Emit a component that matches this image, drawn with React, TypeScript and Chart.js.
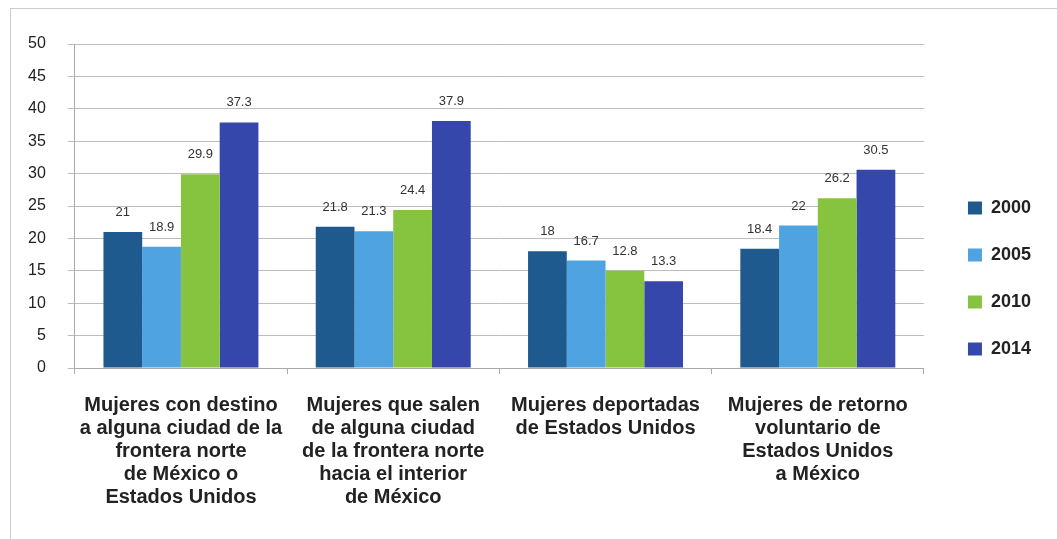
import React, { useEffect, useRef } from "react";
import { Chart, registerables } from "chart.js";

Chart.register(...registerables);

const categories: string[][] = [
  ["Mujeres con destino", "a alguna ciudad de la", "frontera norte", "de México o", "Estados Unidos"],
  ["Mujeres que salen", "de alguna ciudad", "de la frontera norte", "hacia el interior", "de México"],
  ["Mujeres deportadas", "de Estados Unidos"],
  ["Mujeres de retorno", "voluntario de", "Estados Unidos", "a México"],
];

const seriesNames = ["2000", "2005", "2010", "2014"];

const values2000 = [21, 21.8, 18, 18.4];
const values2005 = [18.7, 21.1, 16.6, 22];
const values2010 = [29.9, 24.4, 15, 26.2];
const values2014 = [37.9, 38.1, 13.4, 30.6];

const labels2000 = ["21", "21.8", "18", "18.4"];
const labels2005 = ["18.9", "21.3", "16.7", "22"];
const labels2010 = ["29.9", "24.4", "12.8", "26.2"];
const labels2014 = ["37.3", "37.9", "13.3", "30.5"];

const yTicks = [0, 5, 10, 15, 20, 25, 30, 35, 40, 45, 50];

const colors = ["#1f5a8e", "#4ea3e0", "#86c440", "#3547aa"];

const allValues = [values2000, values2005, values2010, values2014];
const allLabels = [labels2000, labels2005, labels2010, labels2014];

const FONT = "Arial, 'Liberation Sans', sans-serif";

const labelPlugin = {
  id: "barLabels",
  beforeDraw(chart: any) {
    const lg = chart.legend;
    if (lg && !lg._shifted) {
      lg.top -= 8;
      lg.bottom -= 8;
      lg._shifted = true;
    }
  },
  afterLayout(chart: any) {
    if (chart.legend) chart.legend._shifted = false;
  },
  afterDatasetsDraw(chart: any) {
    const ctx = chart.ctx;
    ctx.save();
    ctx.font = "13px " + FONT;
    ctx.fillStyle = "#333";
    ctx.textAlign = "center";
    ctx.textBaseline = "bottom";
    chart.data.datasets.forEach((ds: any, i: number) => {
      const meta = chart.getDatasetMeta(i);
      meta.data.forEach((bar: any, j: number) => {
        ctx.fillText(allLabels[i][j], bar.x, bar.y - 13);
      });
    });
    ctx.restore();
  },
};

export default function App() {
  const ref = useRef<HTMLCanvasElement | null>(null);
  useEffect(() => {
    if (!ref.current) return;
    const chart = new Chart(ref.current, {
      type: "bar",
      data: {
        labels: categories,
        datasets: seriesNames.map((n, i) => ({
          label: n,
          data: allValues[i],
          backgroundColor: colors[i],
          borderWidth: 0,
          barPercentage: 1,
          categoryPercentage: 0.73,
        })),
      },
      options: {
        animation: false,
        responsive: true,
        maintainAspectRatio: false,
        layout: { padding: { left: -5, right: 16, top: 35, bottom: 10 } },
        plugins: {
          legend: {
            position: "right",
            labels: {
              boxWidth: 14,
              boxHeight: 13,
              padding: 29,
              color: "#222",
              font: { size: 18, weight: "bold", family: FONT },
            },
          },
          tooltip: { enabled: false },
        },
        scales: {
          x: {
            grid: {
              display: true,
              drawOnChartArea: false,
              offset: true,
              tickLength: 6,
              color: "#aaa",
            },
            border: { color: "#aaa" },
            ticks: {
              color: "#222",
              padding: 20,
              maxRotation: 0,
              autoSkip: false,
              font: { size: 20, weight: "bold", family: FONT, lineHeight: 1.15 },
            },
          },
          y: {
            min: 0,
            max: 50,
            afterBuildTicks: (axis: any) => {
              axis.ticks = yTicks.map((v) => ({ value: v }));
            },
            grid: { color: "#bdbdbd", tickLength: 7 },
            border: { color: "#aaa" },
            ticks: {
              color: "#222",
              padding: 22,
              font: { size: 16, family: FONT },
            },
          },
          yRight: {
            position: "right",
            display: true,
            min: 0,
            max: 50,
            grid: { display: false, drawOnChartArea: false },
            border: { display: false },
            ticks: { display: false },
            afterFit: (axis: any) => {
              axis.width = 15;
            },
          },
        },
      },
      plugins: [labelPlugin],
    });
    return () => chart.destroy();
  }, []);
  return (
    <div
      style={{
        position: "absolute",
        left: 10,
        top: 8,
        width: 1047,
        height: 531,
        borderLeft: "1px solid #ccc",
        borderTop: "1px solid #ccc",
        boxSizing: "border-box",
        background: "#fff",
      }}
    >
      <canvas ref={ref} />
    </div>
  );
}
